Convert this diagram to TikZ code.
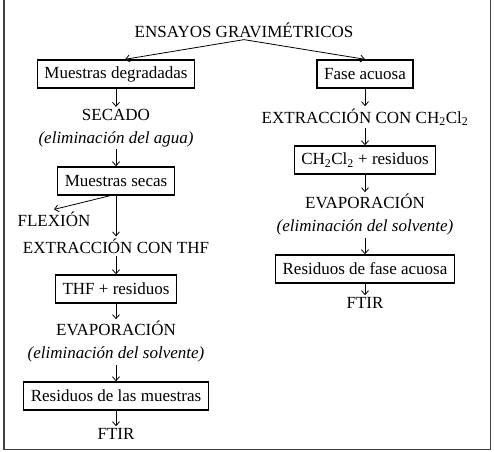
\documentclass[tikz,border=0pt]{standalone}
\usepackage{fontspec}
\setmainfont{Liberation Serif}
\usetikzlibrary{arrows.meta,positioning,calc}

\begin{document}
\begin{tikzpicture}[
  x=1pt,y=-1pt,
  font=\fontsize{17}{23}\selectfont,
  box/.style={draw,line width=1.4pt,inner xsep=7pt,inner ysep=0pt,minimum height=28pt},
  lbl/.style={align=center,inner sep=2pt},
  flow/.style={line width=0.8pt,-{Straight Barb[length=4pt,width=7pt]}}
]
  \useasboundingbox (0,0) rectangle (494,451);
  \draw[line width=1.5pt,black!75] (4,-5) rectangle (490.5,449.5);
  % title
  \node[lbl] (ens) at (244,30) {ENSAYOS GRAVIMÉTRICOS};
  % left column
  \node[box] (degr) at (116,74) {Muestras degradadas};
  \node[lbl] (sec) at (116,128) {SECADO\\\textit{(eliminación del agua)}};
  \node[box] (secas) at (116,181) {Muestras secas};
  \node[lbl] (flex) at (54,219) {FLEXIÓN};
  \node[lbl] (thf) at (116,246) {EXTRACCIÓN CON THF};
  \node[box] (thfres) at (116,289) {THF + residuos};
  \node[lbl] (evapa) at (116,342) {EVAPORACIÓN\\\textit{(eliminación del solvente)}};
  \node[box] (resmu) at (116,396) {Residuos de las muestras};
  \node[lbl] (ftira) at (116,434) {FTIR};
  % right column
  \node[box] (fase) at (365,74) {Fase acuosa};
  \node[lbl] (ext) at (365,117) {EXTRACCIÓN CON CH\textsubscript{2}Cl\textsubscript{2}};
  \node[box] (chres) at (365,160) {CH\textsubscript{2}Cl\textsubscript{2} + residuos};
  \node[lbl] (evapb) at (365,215) {EVAPORACIÓN\\\textit{(eliminación del solvente)}};
  \node[box] (resfa) at (365,269) {Residuos de fase acuosa};
  \node[lbl] (ftirb) at (365,303) {FTIR};
  % arrows
  \draw[flow] (ens.south) -- ([xshift=9pt]degr.north);
  \draw[flow] (ens.south) -- (fase.north);
  \draw[flow] (degr) -- (sec);
  \draw[flow] (sec) -- (secas);
  \draw[flow] ([xshift=-6pt]secas.south) -- (flex.north);
  \draw[flow] (secas) -- (thf);
  \draw[flow] (thf) -- (thfres);
  \draw[flow] (thfres) -- (evapa);
  \draw[flow] (evapa) -- (resmu);
  \draw[flow] (resmu) -- (ftira);
  \draw[flow] (fase) -- (ext);
  \draw[flow] (ext) -- (chres);
  \draw[flow] (chres) -- (evapb);
  \draw[flow] (evapb) -- (resfa);
  \draw[flow] (resfa) -- (ftirb);
\end{tikzpicture}
\end{document}
